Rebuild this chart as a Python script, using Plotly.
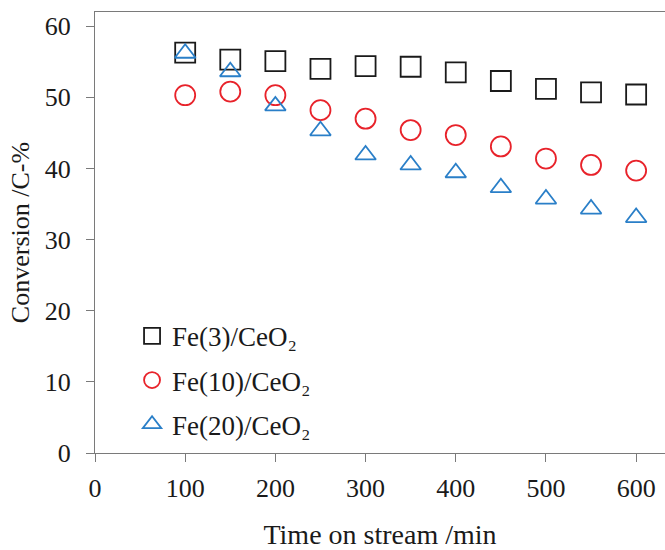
import plotly.graph_objects as go

time_min = [100, 150, 200, 250, 300, 350, 400, 450, 500, 550, 600]
fe3 = [56.3, 55.3, 55.1, 54.0, 54.4, 54.3, 53.5, 52.3, 51.2, 50.7, 50.4]
fe10 = [50.3, 50.8, 50.3, 48.2, 47.0, 45.4, 44.7, 43.1, 41.4, 40.5, 39.7]
fe20 = [56.2, 53.6, 48.8, 45.3, 41.9, 40.5, 39.4, 37.3, 35.7, 34.3, 33.1]

names = ["Fe(3)/CeO₂", "Fe(10)/CeO₂", "Fe(20)/CeO₂"]
series = [fe3, fe10, fe20]
symbols = ["square-open", "circle-open", "triangle-up-open"]
colors = ["#1a1a1a", "#e8222a", "#2a7fc8"]
sizes = [20, 20, 18]

fig = go.Figure()
for n, s, sym, c, sz in zip(names, series, symbols, colors, sizes):
    fig.add_trace(go.Scatter(
        x=time_min, y=s, mode="markers", name=n, legendgroup=n,
        marker=dict(symbol=sym, size=sz, color=c, line=dict(color=c, width=1.8)),
    ))

font = "Liberation Serif, Times New Roman, serif"
fig.update_layout(
    width=665, height=550,
    margin=dict(l=95, r=0, t=12, b=97),
    plot_bgcolor="white", paper_bgcolor="white",
    font=dict(family=font, size=26, color="#1a1a1a"),
    showlegend=True,
    legend=dict(x=0.065, y=0.32, xanchor="left", yanchor="top",
                traceorder="grouped", tracegroupgap=6,
                bgcolor="rgba(0,0,0,0)", font=dict(size=27, family=font),
                itemwidth=30),
    xaxis=dict(range=[0, 632], tickvals=[0, 100, 200, 300, 400, 500, 600],
               showgrid=False, zeroline=False, showline=True, linecolor="#7a7a7a",
               linewidth=1.3, mirror=True, ticks="outside", ticklen=8, tickcolor="#7a7a7a",
               ticklabelstandoff=4,
               title=dict(text="Time on stream /min", standoff=26, font=dict(size=28)),
               tickfont=dict(size=26)),
    yaxis=dict(range=[0, 62], tickvals=[0, 10, 20, 30, 40, 50, 60],
               showgrid=False, zeroline=False, showline=True, linecolor="#7a7a7a",
               linewidth=1.3, ticks="outside", ticklen=8, tickcolor="#7a7a7a",
               ticklabelstandoff=10,
               title=dict(text="Conversion /C-%", standoff=7, font=dict(size=26)),
               tickfont=dict(size=26)),
)
fig.write_html("out.html")
